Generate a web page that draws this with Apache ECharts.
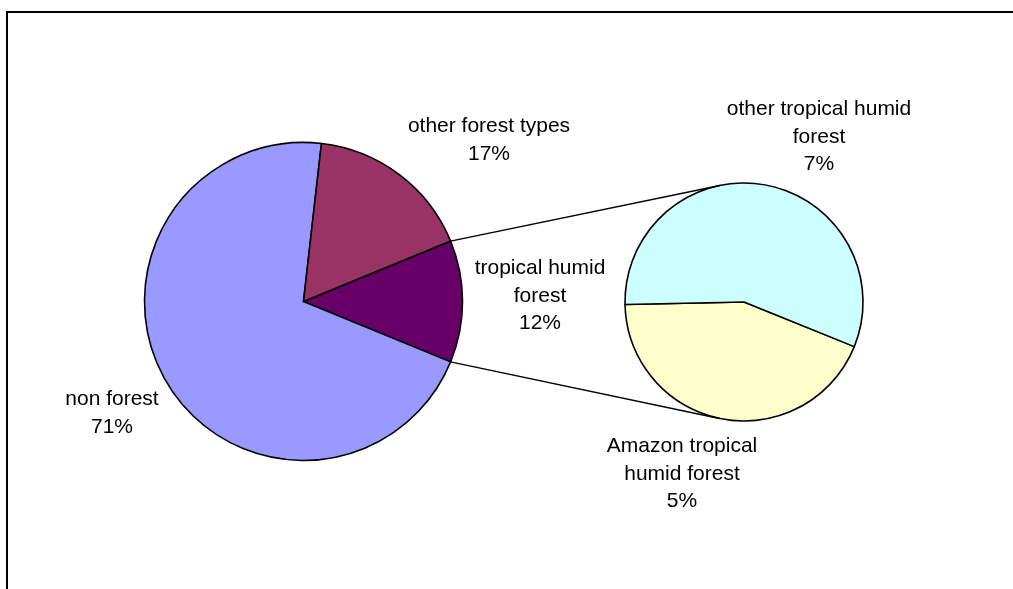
<!DOCTYPE html>
<html>
<head>
<meta charset="utf-8">
<script src="https://cdn.jsdelivr.net/npm/echarts@6/dist/echarts.min.js"></script>
<style>
html,body{margin:0;padding:0;background:#fff;}
#chart{width:1013px;height:589px;}
</style>
</head>
<body>
<div id="chart"></div>
<script>
// ---- data ----
var mainCategories = ['tropical humid\nforest', 'non forest', 'other forest types'];
var mainValues = [12.4, 70.6, 17.0];
var mainColors = ['#660066', '#9999FF', '#993366'];

var subCategories = ['Amazon tropical\nhumid forest', 'other tropical humid\nforest'];
var subValues = [5.4, 7.0];
var subColors = ['#FFFFCC', '#CCFFFF'];

// ---- layout ----
var MAIN_C = [303.5, 301.5], MAIN_R = 159;
var SUB_C = [744, 302], SUB_R = 119;
var mainLabelPos = [[540, 296], [112, 413], [489, 140]];
var subLabelPos = [[682, 474], [819, 137]];

var mainTotal = mainValues.reduce(function(a,b){return a+b;}, 0);
var subTotal = subValues.reduce(function(a,b){return a+b;}, 0);
// the split slice (index 0) is centred on the horizontal axis
var halfSplit = mainValues[0] / mainTotal * 180;
var mainStart = halfSplit;
// secondary pie: first slice (Amazon) ends near the left horizontal
var subSpan = subValues[0] / subTotal * 360;
var subStart = 180 + 1.2 + subSpan - 360;

function fmt(p) { return p.name + '\n' + Math.round(p.value) + '%'; }

// connector lines: tangents from split points of main pie to secondary pie
function tangentLine(angleDeg, upper) {
  var a = angleDeg * Math.PI / 180;
  var px = MAIN_C[0] + MAIN_R * Math.cos(a);
  var py = MAIN_C[1] - MAIN_R * Math.sin(a);
  var dx = px - SUB_C[0], dy = -(py - SUB_C[1]);
  var d = Math.sqrt(dx*dx + dy*dy);
  var base = Math.atan2(dy, dx);
  var off = Math.acos(SUB_R / d);
  var t = upper ? base - off : base + off;
  var tx = SUB_C[0] + SUB_R * Math.cos(t);
  var ty = SUB_C[1] - SUB_R * Math.sin(t);
  return {
    type: 'line',
    shape: {x1: px, y1: py, x2: tx, y2: ty},
    style: {stroke: '#000', lineWidth: 1.5},
    z: 10
  };
}

var labelStyle = {
  show: true,
  formatter: fmt,
  fontFamily: 'Liberation Sans, Arial, sans-serif',
  fontSize: 21,
  lineHeight: 27.5,
  color: '#000',
  align: 'center'
};

var chart = echarts.init(document.getElementById('chart'), null, {renderer: 'canvas'});
chart.setOption({
  animation: false,
  backgroundColor: '#fff',
  graphic: [
    {type: 'rect', shape: {x: 7, y: 12, width: 1200, height: 800},
     style: {fill: 'none', stroke: '#000', lineWidth: 2}, z: 0},
    tangentLine(halfSplit, true),
    tangentLine(-halfSplit, false)
  ],
  series: [
    {
      type: 'pie',
      center: MAIN_C,
      radius: MAIN_R,
      startAngle: mainStart,
      clockwise: true,
      avoidLabelOverlap: false,
      minAngle: 0,
      emphasis: {disabled: true},
      itemStyle: {borderColor: '#000', borderWidth: 1.6},
      label: labelStyle,
      labelLine: {show: false},
      labelLayout: function(p) {
        var pos = mainLabelPos[p.dataIndex];
        return {x: pos[0], y: pos[1], align: 'center', verticalAlign: 'middle'};
      },
      data: mainValues.map(function(v, i){
        return {name: mainCategories[i], value: v, itemStyle: {color: mainColors[i]}};
      })
    },
    {
      type: 'pie',
      center: SUB_C,
      radius: SUB_R,
      startAngle: subStart,
      clockwise: true,
      avoidLabelOverlap: false,
      minAngle: 0,
      emphasis: {disabled: true},
      itemStyle: {borderColor: '#000', borderWidth: 1.6},
      label: labelStyle,
      labelLine: {show: false},
      labelLayout: function(p) {
        var pos = subLabelPos[p.dataIndex];
        return {x: pos[0], y: pos[1], align: 'center', verticalAlign: 'middle'};
      },
      data: subValues.map(function(v, i){
        return {name: subCategories[i], value: v, itemStyle: {color: subColors[i]}};
      })
    }
  ]
});
</script>
</body>
</html>
